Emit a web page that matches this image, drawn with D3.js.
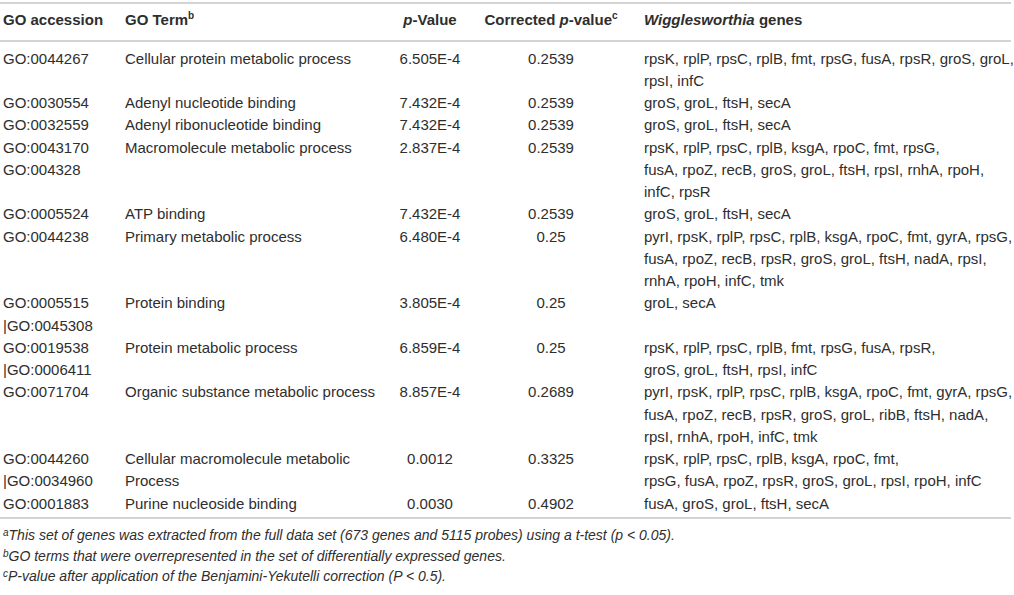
<!DOCTYPE html>
<html>
<head>
<meta charset="utf-8">
<script src="https://cdn.jsdelivr.net/npm/d3@7"></script>
<style>
  body { margin: 0; background: #fff; }
  svg text { font-family: "Liberation Sans", Arial, sans-serif; fill: #2e2e2e; }
</style>
</head>
<body>
<svg id="table" width="1014" height="595"></svg>
<script>
// table values
const accessions = [
    ["GO:0044267"],
    ["GO:0030554"],
    ["GO:0032559"],
    ["GO:0043170", "GO:004328"],
    ["GO:0005524"],
    ["GO:0044238"],
    ["GO:0005515", "|GO:0045308"],
    ["GO:0019538", "|GO:0006411"],
    ["GO:0071704"],
    ["GO:0044260", "|GO:0034960"],
    ["GO:0001883"]
];
const terms = [
    ["Cellular protein metabolic process"],
    ["Adenyl nucleotide binding"],
    ["Adenyl ribonucleotide binding"],
    ["Macromolecule metabolic process"],
    ["ATP binding"],
    ["Primary metabolic process"],
    ["Protein binding"],
    ["Protein metabolic process"],
    ["Organic substance metabolic process"],
    ["Cellular macromolecule metabolic", "Process"],
    ["Purine nucleoside binding"]
];
const pValues = ["6.505E-4", "7.432E-4", "7.432E-4", "2.837E-4", "7.432E-4", "6.480E-4",
    "3.805E-4", "6.859E-4", "8.857E-4", "0.0012", "0.0030"];
const corrected = ["0.2539", "0.2539", "0.2539", "0.2539", "0.2539", "0.25",
    "0.25", "0.25", "0.2689", "0.3325", "0.4902"];
const genes = [
    ["rpsK, rplP, rpsC, rplB, fmt, rpsG, fusA, rpsR, groS, groL,", "rpsI, infC"],
    ["groS, groL, ftsH, secA"],
    ["groS, groL, ftsH, secA"],
    ["rpsK, rplP, rpsC, rplB, ksgA, rpoC, fmt, rpsG,", "fusA, rpoZ, recB, groS, groL, ftsH, rpsI, rnhA, rpoH,", "infC, rpsR"],
    ["groS, groL, ftsH, secA"],
    ["pyrI, rpsK, rplP, rpsC, rplB, ksgA, rpoC, fmt, gyrA, rpsG,", "fusA, rpoZ, recB, rpsR, groS, groL, ftsH, nadA, rpsI,", "rnhA, rpoH, infC, tmk"],
    ["groL, secA"],
    ["rpsK, rplP, rpsC, rplB, fmt, rpsG, fusA, rpsR,", "groS, groL, ftsH, rpsI, infC"],
    ["pyrI, rpsK, rplP, rpsC, rplB, ksgA, rpoC, fmt, gyrA, rpsG,", "fusA, rpoZ, recB, rpsR, groS, groL, ribB, ftsH, nadA,", "rpsI, rnhA, rpoH, infC, tmk"],
    ["rpsK, rplP, rpsC, rplB, ksgA, rpoC, fmt,", "rpsG, fusA, rpoZ, rpsR, groS, groL, rpsI, rpoH, infC"],
    ["fusA, groS, groL, ftsH, secA"]
];
const footnotes = [
    ["a", "This set of genes was extracted from the full data set (673 genes and 5115 probes) using a t-test (p < 0.05)."],
    ["b", "GO terms that were overrepresented in the set of differentially expressed genes."],
    ["c", "P-value after application of the Benjamini-Yekutelli correction (P < 0.5)."]
];

const svg = d3.select("#table");
const fontSize = 15;

// how many text lines each row needs
const rowLines = accessions.map((a, i) => Math.max(a.length, terms[i].length, genes[i].length));
const rowStart = d3.cumsum([0].concat(rowLines)).slice(0, rowLines.length);
const totalLines = d3.sum(rowLines);

// line index -> vertical centre of that line
const y = d3.scaleLinear()
    .domain([0, totalLines - 1])
    .range([58, 503]);

// column anchors
const col = { acc: 3, term: 125, pval: 430, corr: 551, genes: 644 };

// rules
const rules = [3, 41, 518];
svg.selectAll("line.rule")
    .data(rules)
    .enter()
    .append("line")
    .attr("class", "rule")
    .attr("x1", 0)
    .attr("x2", 1011)
    .attr("y1", d => d)
    .attr("y2", d => d)
    .style("stroke", "#c4c4c4")
    .style("stroke-width", 1.6);

// header
const header = svg.append("g")
    .style("font-weight", "bold")
    .style("font-size", fontSize + "px");
const hy = 25;

header.append("text").attr("x", col.acc).attr("y", hy).text("GO accession");

const hTerm = header.append("text").attr("x", col.term).attr("y", hy);
hTerm.append("tspan").text("GO Term");
hTerm.append("tspan").attr("dy", -6).style("font-size", "10px").text("b");

const hP = header.append("text").attr("x", col.pval).attr("y", hy).attr("text-anchor", "middle");
hP.append("tspan").style("font-style", "italic").text("p");
hP.append("tspan").text("-Value");

const hC = header.append("text").attr("x", col.corr).attr("y", hy).attr("text-anchor", "middle");
hC.append("tspan").text("Corrected ");
hC.append("tspan").style("font-style", "italic").text("p");
hC.append("tspan").text("-value");
hC.append("tspan").attr("dy", -6).style("font-size", "10px").text("c");

const hG = header.append("text").attr("x", col.genes).attr("y", hy);
hG.append("tspan").style("font-style", "italic").text("Wigglesworthia");
hG.append("tspan").text(" genes");

// body rows
const body = svg.append("g").style("font-size", fontSize + "px");
const base = 5.5; // centre -> baseline

function multiLine(lines, x, anchor) {
    body.selectAll(null)
        .data(lines)
        .enter()
        .append("text")
        .attr("x", x)
        .attr("y", d => y(d.line) + base)
        .attr("text-anchor", anchor)
        .text(d => d.text);
}

const accLines = [], termLines = [], geneLines = [];
accessions.forEach((rows, i) => {
    rows.forEach((t, k) => accLines.push({ line: rowStart[i] + k, text: t }));
    terms[i].forEach((t, k) => termLines.push({ line: rowStart[i] + k, text: t }));
    genes[i].forEach((t, k) => geneLines.push({ line: rowStart[i] + k, text: t }));
});

multiLine(accLines, col.acc, "start");
multiLine(termLines, col.term, "start");
multiLine(pValues.map((t, i) => ({ line: rowStart[i], text: t })), col.pval, "middle");
multiLine(corrected.map((t, i) => ({ line: rowStart[i], text: t })), col.corr, "middle");
multiLine(geneLines, col.genes, "start");

// footnotes
const foot = svg.append("g")
    .style("font-size", "14px")
    .style("font-style", "italic");
foot.selectAll("text")
    .data(footnotes)
    .enter()
    .append("text")
    .attr("x", 3)
    .attr("y", (d, i) => 540 + i * 20.5)
    .each(function (d) {
        const t = d3.select(this);
        t.append("tspan").style("font-size", "10px").attr("dy", -4).text(d[0]);
        t.append("tspan").attr("dy", 4).text(d[1]);
    });
</script>
</body>
</html>
